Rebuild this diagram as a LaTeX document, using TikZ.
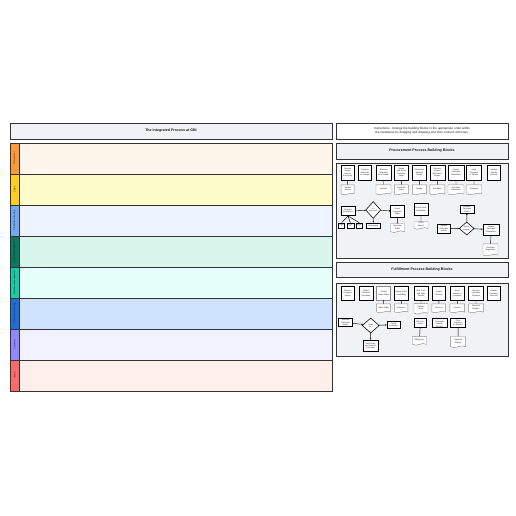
\documentclass[tikz,border=0pt]{standalone}
\usepackage{fontspec}
\setmainfont{Liberation Sans}
\usetikzlibrary{shapes.geometric,shapes.symbols,arrows.meta}
\definecolor{edge}{HTML}{333333}
\definecolor{txt}{HTML}{1A1A1A}
\definecolor{hdrfill}{HTML}{F1F2F4}
\definecolor{boxgray}{HTML}{8A8A8A}
\definecolor{sA}{HTML}{FF9A3C}\definecolor{fA}{HTML}{FFF6EB}
\definecolor{sB}{HTML}{FFCF1F}\definecolor{fB}{HTML}{FFFCCC}
\definecolor{sC}{HTML}{73A9F2}\definecolor{fC}{HTML}{EDF4FF}
\definecolor{sD}{HTML}{0A7A5C}\definecolor{fD}{HTML}{D8F6EC}
\definecolor{sE}{HTML}{1ACBA8}\definecolor{fE}{HTML}{E6FFFA}
\definecolor{sF}{HTML}{1F6FD9}\definecolor{fF}{HTML}{D0E3FC}
\definecolor{sG}{HTML}{8F88FF}\definecolor{fG}{HTML}{F2F2FF}
\definecolor{sH}{HTML}{FF6B6B}\definecolor{fH}{HTML}{FFEFEA}
\begin{document}
\begin{tikzpicture}[x=1pt,y=-1pt,
  frame/.style={draw=edge,line width=0.8pt},
  hdr/.style={frame,fill=hdrfill,inner sep=1pt,align=center,text=txt,font=\bfseries\fontsize{3.6}{4.3}\selectfont},
  lanefr/.style={draw=edge,line width=0.7pt},
  lanelab/.style={rotate=90,inner sep=0pt,text=txt,font=\fontsize{2.2}{2.6}\selectfont},
  blk/.style={draw=black,line width=0.55pt,fill=white,inner sep=0.3pt,align=center,text width=11.5pt,text=txt,font=\fontsize{2}{2.45}\selectfont},
  gblk/.style={blk,draw=boxgray},
  docu/.style={tape,tape bend top=none,tape bend bottom=in and out,tape bend height=1.6pt,draw=boxgray,line width=0.45pt,fill=white,inner sep=0.3pt,align=center,text width=11.5pt,text=txt,font=\fontsize{2}{2.45}\selectfont},
  dia/.style={diamond,draw=black,line width=0.55pt,fill=white,inner sep=0pt},
  dtext/.style={inner sep=0pt,align=center,text=txt,font=\fontsize{1.8}{2.2}\selectfont},
  conn/.style={draw=black,line width=0.45pt},
  arr/.style={conn,-{Triangle[length=1.4pt,width=1.4pt]}}
]
\useasboundingbox[fill=white] (0,0) rectangle (516,516);

% ---------- left: integrated process ----------
\node[hdr,minimum width=322pt,minimum height=16pt] (title) at (171,131) {The Integrated Process at GBI};
\foreach \i/\sc/\fc/\lab in {0/sA/fA/Procurement,1/sB/fB/Sales,2/sC/fC/Production Planning,3/sD/fD/Inventory Management,4/sE/fE/Warehouse Management,5/sF/fF/Financial Accounting,6/sG/fG/Customer,7/sH/fH/Vendor}{
  \draw[lanefr,fill=\fc] (19,{143+31*\i}) rectangle (332,{174+31*\i});
  \draw[lanefr,fill=\sc] (10,{143+31*\i}) rectangle (19,{174+31*\i});
  \node[lanelab] (lab\i) at (14.5,{158.5+31*\i}) {\lab};
}
\draw[frame] (10,143) rectangle (332,391);

% ---------- right: instructions and headers ----------
\node[frame,fill=white,minimum width=172pt,minimum height=16pt,text width=164pt,align=center,inner sep=0pt,text=txt,font=\fontsize{3}{3.7}\selectfont] (instr) at (422,131) {Instructions: Arrange the building blocks in the appropriate order within the swimlanes by dragging and dropping and then connect with lines.};
\node[hdr,minimum width=172pt,minimum height=16pt] (phdr) at (422,151) {Procurement Process Building Blocks};
\draw[frame,fill=hdrfill] (336,163) rectangle (508,258);
\node[hdr,minimum width=172pt,minimum height=15pt] (fhdr) at (422,269.5) {Fulfillment Process Building Blocks};
\draw[frame,fill=hdrfill] (336,283) rectangle (508,356);

% ---------- procurement top row ----------
\node[blk,minimum width=13pt,minimum height=15pt] (p1) at (347.7,172.5) {Receive Vendor Invoice and Verify};
\node[blk,minimum width=13pt,minimum height=15pt] (p2) at (365,172.5) {Transfer Materials to Storage};
\node[blk,minimum width=15pt,minimum height=15pt] (p3) at (383.5,172.5) {Receive Shipment from Vendor};
\node[blk,minimum width=14pt,minimum height=15pt] (p4) at (401.3,172.5) {Create and Send Purchase Order};
\node[blk,minimum width=14pt,minimum height=15pt] (p5) at (419.3,172.5) {Determine Material Needs};
\node[blk,minimum width=15pt,minimum height=15pt] (p6) at (437.3,172.5) {Receive Quotes and Select Vendor};
\node[blk,minimum width=16pt,minimum height=15pt] (p7) at (456,172.5) {Create Purchase Requisition};
\node[blk,minimum width=15pt,minimum height=15pt] (p8) at (474,172.5) {Send Payment to Vendor};
\node[blk,minimum width=13pt,minimum height=15pt] (p9) at (494,172.5) {Update Vendor Records};

\node[docu,minimum width=13pt,minimum height=10pt] (pd1) at (347.7,189) {Vendor Invoice};
\node[docu,minimum width=15pt,minimum height=10pt] (pd3) at (383.5,189) {Receipt};
\node[docu,minimum width=14pt,minimum height=10pt] (pd4) at (401.3,189) {Purchase Order};
\node[docu,minimum width=14pt,minimum height=10pt] (pd5) at (419.3,189) {Needs};
\node[docu,minimum width=15pt,minimum height=10pt] (pd6) at (437.3,189) {Quotation};
\node[docu,minimum width=16pt,minimum height=10pt] (pd7) at (456,189) {Purchase Requisition};
\node[docu,minimum width=15pt,minimum height=10pt] (pd8) at (474,189) {Payment};
\foreach \k in {1,3,4,5,6,7,8}{\draw[conn] (p\k) -- (pd\k);}

% ---------- procurement lower part ----------
\node[blk,minimum width=14pt,minimum height=9pt] (pa) at (348,211.2) {Request Quotations};
\node[blk,minimum width=6pt,minimum height=5pt,text width=5pt,font=\fontsize{1.5}{1.8}\selectfont] (pv1) at (341.7,225.5) {Vendor A};
\node[blk,minimum width=7pt,minimum height=5pt,text width=6pt,font=\fontsize{1.5}{1.8}\selectfont] (pv2) at (350.3,225.5) {Vendor B};
\node[blk,minimum width=6.5pt,minimum height=5pt,text width=5.5pt,font=\fontsize{1.5}{1.8}\selectfont] (pv3) at (359.3,225.5) {Vendor C};
\foreach \k in {1,2,3}{\draw[conn] (pa.south) -- (pv\k.north);}
\node[dia,minimum width=15pt,minimum height=17pt] (pq) at (373.2,210) {};
\node[dtext] (pqt) at (pq.center) {Is it\\approved?};
\node[blk,minimum width=13.3pt,minimum height=12.7pt] (pr) at (397.3,211.3) {Send Purchase Order};
\node[blk,minimum width=14.7pt,minimum height=5pt] (pn) at (373.3,225.5) {Investigate};
\node[docu,minimum width=14pt,minimum height=8.7pt] (prd) at (397.5,227.3) {Purchase Order};
\draw[arr] (pa) -- (pq);
\draw[arr] (pq) -- (pr);
\draw[arr] (pq) -- (pn);
\draw[conn] (pr) -- (prd);

\node[blk,minimum width=14pt,minimum height=12.7pt] (pm) at (421,209.3) {Check Stock Availability};
\node[docu,minimum width=14pt,minimum height=7.5pt] (pmd) at (421,224.7) {Stock Report};
\draw[conn] (pm) -- (pmd);

\node[blk,minimum width=14pt,minimum height=8.3pt] (pt) at (467,209) {Release Purchase Order};
\node[dia,minimum width=15pt,minimum height=13pt] (pq2) at (466.7,228.5) {};
\node[dtext] (pq2t) at (pq2.center) {Within\\budget?};
\node[blk,minimum width=13.7pt,minimum height=9.3pt] (pl) at (443.8,228.7) {Review Purchase Needs};
\node[blk,minimum width=16pt,minimum height=11pt] (prr) at (491,229.5) {Create Purchase Requisition};
\node[docu,minimum width=15pt,minimum height=12pt] (prrd) at (490.5,249) {Purchase Requisition};
\draw[arr] (pl) -- (pq2);
\draw[arr] (pq2) -- (prr);
\draw[arr] (pq2) -- (pt);
\draw[conn] (prr) -- (prrd);

% ---------- fulfillment top row ----------
\node[blk,minimum width=13.7pt,minimum height=13.3pt] (f1) at (347.8,293.3) {Receive Customer Inquiry};
\node[blk,minimum width=14pt,minimum height=13.3pt] (f2) at (366,293.3) {Create Customer Quotation};
\node[gblk,minimum width=14pt,minimum height=13.3pt] (f3) at (383.7,293.3) {Create Sales Order};
\node[blk,minimum width=13.3pt,minimum height=13.3pt] (f4) at (401.3,293.3) {Check Stock Availability};
\node[blk,minimum width=14pt,minimum height=13.3pt] (f5) at (421,293.3) {Pick, Pack and Ship Goods};
\node[blk,minimum width=13.7pt,minimum height=13.3pt] (f6) at (438.8,293.3) {Create Delivery};
\node[blk,minimum width=14.7pt,minimum height=13.3pt] (f7) at (457.3,293.3) {Send Invoice to Customer};
\node[blk,minimum width=14.6pt,minimum height=13.3pt] (f8) at (476,293.3) {Receive Customer Payment};
\node[blk,minimum width=13.7pt,minimum height=13.3pt] (f9) at (493.8,293.3) {Update Customer Records};

\node[docu,minimum width=14pt,minimum height=9pt] (fd3) at (383.7,307.5) {Sales Order};
\node[docu,minimum width=13.3pt,minimum height=9pt] (fd4) at (401.3,307.5) {Quotation};
\node[docu,minimum width=14pt,minimum height=10.5pt] (fd5) at (421,308) {Delivery Note};
\node[docu,minimum width=13.7pt,minimum height=9pt] (fd6) at (438.8,307.5) {Pick List};
\node[docu,minimum width=14.7pt,minimum height=9pt] (fd7) at (457.3,307.5) {Invoice};
\node[docu,minimum width=14.6pt,minimum height=9pt] (fd8) at (476,307.5) {Payment Receipt};
\foreach \k in {3,4,5,6,7,8}{\draw[conn] (f\k) -- (fd\k);}

% ---------- fulfillment lower part ----------
\node[blk,minimum width=13.6pt,minimum height=8.7pt] (fa) at (345.5,322.3) {Receive Customer Order};
\node[dia,minimum width=17pt,minimum height=15pt] (fq) at (370.7,325.5) {};
\node[dtext] (fqt) at (fq.center) {Credit\\OK?};
\node[blk,minimum width=13.7pt,minimum height=7pt] (fr) at (393.8,324.7) {Notify Customer};
\node[blk,minimum width=15pt,minimum height=11.7pt] (fn) at (370.5,345.8) {Hold Order and Contact Customer};
\draw[arr] (fa) -- (fq);
\draw[arr] (fq) -- (fr);
\draw[arr] (fq) -- (fn);

\node[blk,minimum width=12.7pt,minimum height=9.7pt] (fm) at (420.3,322.8) {Bill Customer};
\node[docu,minimum width=14pt,minimum height=8.7pt] (fmd) at (419.5,340) {Billing Doc};
\draw[conn] (fm) -- (fmd);
\node[blk,minimum width=15pt,minimum height=9.7pt] (fb) at (439.5,322.8) {Update Customer Master Record};
\node[blk,minimum width=15pt,minimum height=9.7pt] (fc) at (458.2,322.8) {Post Payment to Account};
\node[docu,minimum width=15pt,minimum height=11pt] (fcd) at (458.2,341.2) {Payment Advice};
\draw[conn] (fc) -- (fcd);
\end{tikzpicture}
\end{document}
